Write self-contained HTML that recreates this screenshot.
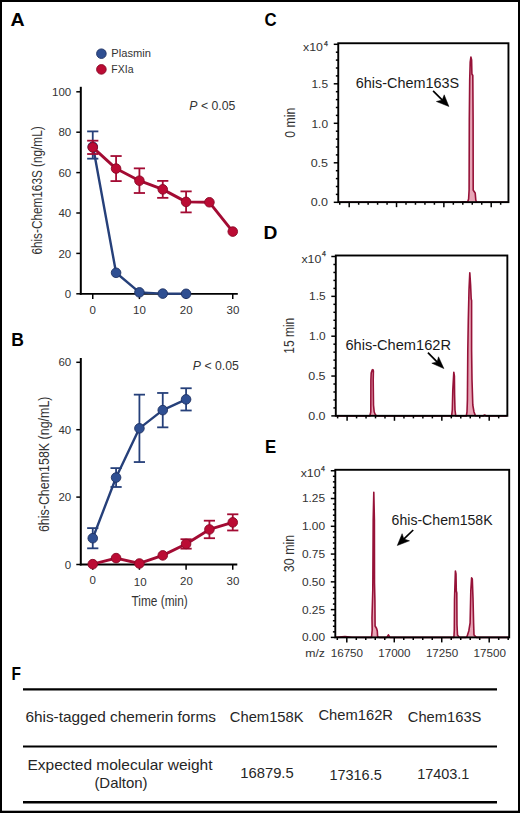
<!DOCTYPE html>
<html><head><meta charset="utf-8"><style>
html,body{margin:0;padding:0;background:#fff;}
body{width:520px;height:813px;overflow:hidden;}
svg{display:block;font-family:"Liberation Sans", sans-serif;}
</style></head><body>
<svg width="520" height="813" viewBox="0 0 520 813">
<rect x="0" y="0" width="520" height="813" fill="#000"/>
<rect x="2" y="2" width="516" height="808.7" fill="#fff"/>
<text transform="translate(10.6,26) scale(1.12,1)" x="0" y="0" font-size="17.5" font-weight="bold" fill="#000">A</text>
<text transform="translate(11.2,346.2) scale(1.0,1)" x="0" y="0" font-size="17.5" font-weight="bold" fill="#000">B</text>
<text transform="translate(264.6,26.2) scale(0.96,1)" x="0" y="0" font-size="17.5" font-weight="bold" fill="#000">C</text>
<text transform="translate(263.6,238.8) scale(1.1,1)" x="0" y="0" font-size="17.5" font-weight="bold" fill="#000">D</text>
<text transform="translate(265.0,452.7) scale(0.96,1)" x="0" y="0" font-size="17.5" font-weight="bold" fill="#000">E</text>
<text transform="translate(11.4,679.6) scale(0.88,1)" x="0" y="0" font-size="17.5" font-weight="bold" fill="#000">F</text>
<line x1="80.8" y1="86.8" x2="80.8" y2="294.7" stroke="#000" stroke-width="2"/>
<line x1="79.8" y1="293.8" x2="237.8" y2="293.8" stroke="#000" stroke-width="1.8"/>
<line x1="76.3" y1="293.8" x2="80.8" y2="293.8" stroke="#000" stroke-width="1.5"/>
<text x="71.2" y="297.90000000000003" font-size="11.5" text-anchor="end" fill="#333">0</text>
<line x1="76.3" y1="253.4" x2="80.8" y2="253.4" stroke="#000" stroke-width="1.5"/>
<text x="71.2" y="257.5" font-size="11.5" text-anchor="end" fill="#333">20</text>
<line x1="76.3" y1="213.0" x2="80.8" y2="213.0" stroke="#000" stroke-width="1.5"/>
<text x="71.2" y="217.1" font-size="11.5" text-anchor="end" fill="#333">40</text>
<line x1="76.3" y1="172.60000000000002" x2="80.8" y2="172.60000000000002" stroke="#000" stroke-width="1.5"/>
<text x="71.2" y="176.70000000000002" font-size="11.5" text-anchor="end" fill="#333">60</text>
<line x1="76.3" y1="132.20000000000002" x2="80.8" y2="132.20000000000002" stroke="#000" stroke-width="1.5"/>
<text x="71.2" y="136.3" font-size="11.5" text-anchor="end" fill="#333">80</text>
<line x1="76.3" y1="91.80000000000001" x2="80.8" y2="91.80000000000001" stroke="#000" stroke-width="1.5"/>
<text x="71.2" y="95.9" font-size="11.5" text-anchor="end" fill="#333">100</text>
<line x1="92.75" y1="293.8" x2="92.75" y2="299.1" stroke="#000" stroke-width="1.5"/>
<line x1="139.417" y1="293.8" x2="139.417" y2="299.1" stroke="#000" stroke-width="1.5"/>
<line x1="186.084" y1="293.8" x2="186.084" y2="299.1" stroke="#000" stroke-width="1.5"/>
<line x1="232.75099999999998" y1="293.8" x2="232.75099999999998" y2="299.1" stroke="#000" stroke-width="1.5"/>
<polyline points="92.75,145.03 116.08,272.79 139.42,292.39 162.75,293.60 186.08,293.80" fill="none" stroke="#26407a" stroke-width="2.4" stroke-linejoin="round"/>
<line x1="92.75" y1="131.392" x2="92.75" y2="158.662" stroke="#26407a" stroke-width="1.8"/>
<line x1="87.15" y1="131.392" x2="98.35" y2="131.392" stroke="#26407a" stroke-width="1.8"/>
<line x1="87.15" y1="158.662" x2="98.35" y2="158.662" stroke="#26407a" stroke-width="1.8"/>
<circle cx="92.75" cy="146.74" r="4.8" fill="#2f4f92" stroke="#1f3263" stroke-width="0.9"/>
<circle cx="116.08" cy="272.79" r="4.8" fill="#2f4f92" stroke="#1f3263" stroke-width="0.9"/>
<circle cx="139.42" cy="292.39" r="4.8" fill="#2f4f92" stroke="#1f3263" stroke-width="0.9"/>
<circle cx="162.75" cy="293.60" r="4.8" fill="#2f4f92" stroke="#1f3263" stroke-width="0.9"/>
<circle cx="186.08" cy="293.80" r="4.8" fill="#2f4f92" stroke="#1f3263" stroke-width="0.9"/>
<polyline points="92.75,147.35 116.08,168.56 139.42,180.68 162.75,189.37 186.08,201.89 209.42,202.29 232.75,231.58" fill="none" stroke="#a30b33" stroke-width="2.9" stroke-linejoin="round"/>
<line x1="92.75" y1="140.68400000000003" x2="92.75" y2="154.016" stroke="#a30b33" stroke-width="1.8"/>
<line x1="87.15" y1="140.68400000000003" x2="98.35" y2="140.68400000000003" stroke="#a30b33" stroke-width="1.8"/>
<line x1="87.15" y1="154.016" x2="98.35" y2="154.016" stroke="#a30b33" stroke-width="1.8"/>
<line x1="116.0835" y1="156.036" x2="116.0835" y2="181.084" stroke="#a30b33" stroke-width="1.8"/>
<line x1="110.4835" y1="156.036" x2="121.6835" y2="156.036" stroke="#a30b33" stroke-width="1.8"/>
<line x1="110.4835" y1="181.084" x2="121.6835" y2="181.084" stroke="#a30b33" stroke-width="1.8"/>
<line x1="139.417" y1="168.358" x2="139.417" y2="193.002" stroke="#a30b33" stroke-width="1.8"/>
<line x1="133.817" y1="168.358" x2="145.017" y2="168.358" stroke="#a30b33" stroke-width="1.8"/>
<line x1="133.817" y1="193.002" x2="145.017" y2="193.002" stroke="#a30b33" stroke-width="1.8"/>
<line x1="162.7505" y1="180.882" x2="162.7505" y2="197.85000000000002" stroke="#a30b33" stroke-width="1.8"/>
<line x1="157.1505" y1="180.882" x2="168.35049999999998" y2="180.882" stroke="#a30b33" stroke-width="1.8"/>
<line x1="157.1505" y1="197.85000000000002" x2="168.35049999999998" y2="197.85000000000002" stroke="#a30b33" stroke-width="1.8"/>
<line x1="186.084" y1="191.38600000000002" x2="186.084" y2="212.394" stroke="#a30b33" stroke-width="1.8"/>
<line x1="180.484" y1="191.38600000000002" x2="191.684" y2="191.38600000000002" stroke="#a30b33" stroke-width="1.8"/>
<line x1="180.484" y1="212.394" x2="191.684" y2="212.394" stroke="#a30b33" stroke-width="1.8"/>
<circle cx="92.75" cy="147.35" r="4.8" fill="#bb0b34" stroke="#880826" stroke-width="0.9"/>
<circle cx="116.08" cy="168.56" r="4.8" fill="#bb0b34" stroke="#880826" stroke-width="0.9"/>
<circle cx="139.42" cy="180.68" r="4.8" fill="#bb0b34" stroke="#880826" stroke-width="0.9"/>
<circle cx="162.75" cy="189.37" r="4.8" fill="#bb0b34" stroke="#880826" stroke-width="0.9"/>
<circle cx="186.08" cy="201.89" r="4.8" fill="#bb0b34" stroke="#880826" stroke-width="0.9"/>
<circle cx="209.42" cy="202.29" r="4.8" fill="#bb0b34" stroke="#880826" stroke-width="0.9"/>
<circle cx="232.75" cy="231.58" r="4.8" fill="#bb0b34" stroke="#880826" stroke-width="0.9"/>
<text x="92.8" y="313.6" font-size="11.5" text-anchor="middle" fill="#333">0</text>
<text x="139.5" y="313.6" font-size="11.5" text-anchor="middle" fill="#333">10</text>
<text x="186.2" y="313.6" font-size="11.5" text-anchor="middle" fill="#333">20</text>
<text x="233.0" y="313.6" font-size="11.5" text-anchor="middle" fill="#333">30</text>
<circle cx="101.4" cy="53.7" r="4.8" fill="#2f4f92" stroke="#1f3263" stroke-width="0.9"/>
<circle cx="101.4" cy="69.4" r="4.8" fill="#bb0b34" stroke="#880826" stroke-width="0.9"/>
<text x="111.3" y="56.9" font-size="11.5" text-anchor="start" fill="#333" textLength="39.6" lengthAdjust="spacingAndGlyphs">Plasmin</text>
<text x="111.3" y="72.5" font-size="11.5" text-anchor="start" fill="#333" textLength="22.2" lengthAdjust="spacingAndGlyphs">FXIa</text>
<text x="189.3" y="109.6" font-size="12" fill="#333" textLength="46" lengthAdjust="spacingAndGlyphs"><tspan font-style="italic">P</tspan> &lt; 0.05</text>
<text transform="translate(41.8,190.5) rotate(-90)" x="0" y="0" font-size="14" text-anchor="middle" fill="#333" textLength="128.2" lengthAdjust="spacingAndGlyphs">6his-Chem163S (ng/mL)</text>
<line x1="80.8" y1="358.0" x2="80.8" y2="565.4" stroke="#000" stroke-width="2"/>
<line x1="79.8" y1="564.5" x2="237.3" y2="564.5" stroke="#000" stroke-width="1.8"/>
<line x1="76.3" y1="564.5" x2="80.8" y2="564.5" stroke="#000" stroke-width="1.5"/>
<text x="71.2" y="568.6" font-size="11.5" text-anchor="end" fill="#333">0</text>
<line x1="76.3" y1="497.1" x2="80.8" y2="497.1" stroke="#000" stroke-width="1.5"/>
<text x="71.2" y="501.20000000000005" font-size="11.5" text-anchor="end" fill="#333">20</text>
<line x1="76.3" y1="429.7" x2="80.8" y2="429.7" stroke="#000" stroke-width="1.5"/>
<text x="71.2" y="433.8" font-size="11.5" text-anchor="end" fill="#333">40</text>
<line x1="76.3" y1="362.29999999999995" x2="80.8" y2="362.29999999999995" stroke="#000" stroke-width="1.5"/>
<text x="71.2" y="366.4" font-size="11.5" text-anchor="end" fill="#333">60</text>
<line x1="92.75" y1="564.5" x2="92.75" y2="569.8" stroke="#000" stroke-width="1.5"/>
<line x1="139.417" y1="564.5" x2="139.417" y2="569.8" stroke="#000" stroke-width="1.5"/>
<line x1="186.084" y1="564.5" x2="186.084" y2="569.8" stroke="#000" stroke-width="1.5"/>
<line x1="232.75099999999998" y1="564.5" x2="232.75099999999998" y2="569.8" stroke="#000" stroke-width="1.5"/>
<polyline points="92.75,538.21 116.08,477.55 139.42,428.35 162.75,410.15 186.08,399.37" fill="none" stroke="#26407a" stroke-width="2.4" stroke-linejoin="round"/>
<line x1="92.75" y1="528.104" x2="92.75" y2="548.324" stroke="#26407a" stroke-width="1.8"/>
<line x1="87.15" y1="528.104" x2="98.35" y2="528.104" stroke="#26407a" stroke-width="1.8"/>
<line x1="87.15" y1="548.324" x2="98.35" y2="548.324" stroke="#26407a" stroke-width="1.8"/>
<line x1="116.0835" y1="468.118" x2="116.0835" y2="486.99" stroke="#26407a" stroke-width="1.8"/>
<line x1="110.4835" y1="468.118" x2="121.6835" y2="468.118" stroke="#26407a" stroke-width="1.8"/>
<line x1="110.4835" y1="486.99" x2="121.6835" y2="486.99" stroke="#26407a" stroke-width="1.8"/>
<line x1="139.417" y1="394.652" x2="139.417" y2="462.052" stroke="#26407a" stroke-width="1.8"/>
<line x1="133.817" y1="394.652" x2="145.017" y2="394.652" stroke="#26407a" stroke-width="1.8"/>
<line x1="133.817" y1="462.052" x2="145.017" y2="462.052" stroke="#26407a" stroke-width="1.8"/>
<line x1="162.7505" y1="392.967" x2="162.7505" y2="427.341" stroke="#26407a" stroke-width="1.8"/>
<line x1="157.1505" y1="392.967" x2="168.35049999999998" y2="392.967" stroke="#26407a" stroke-width="1.8"/>
<line x1="157.1505" y1="427.341" x2="168.35049999999998" y2="427.341" stroke="#26407a" stroke-width="1.8"/>
<line x1="186.084" y1="388.249" x2="186.084" y2="410.491" stroke="#26407a" stroke-width="1.8"/>
<line x1="180.484" y1="388.249" x2="191.684" y2="388.249" stroke="#26407a" stroke-width="1.8"/>
<line x1="180.484" y1="410.491" x2="191.684" y2="410.491" stroke="#26407a" stroke-width="1.8"/>
<circle cx="92.75" cy="538.21" r="4.8" fill="#2f4f92" stroke="#1f3263" stroke-width="0.9"/>
<circle cx="116.08" cy="477.55" r="4.8" fill="#2f4f92" stroke="#1f3263" stroke-width="0.9"/>
<circle cx="139.42" cy="428.35" r="4.8" fill="#2f4f92" stroke="#1f3263" stroke-width="0.9"/>
<circle cx="162.75" cy="410.15" r="4.8" fill="#2f4f92" stroke="#1f3263" stroke-width="0.9"/>
<circle cx="186.08" cy="399.37" r="4.8" fill="#2f4f92" stroke="#1f3263" stroke-width="0.9"/>
<polyline points="92.75,564.16 116.08,558.10 139.42,563.49 162.75,555.40 186.08,543.94 209.42,529.45 232.75,522.38" fill="none" stroke="#a30b33" stroke-width="2.9" stroke-linejoin="round"/>
<line x1="186.084" y1="539.225" x2="186.084" y2="548.6610000000001" stroke="#a30b33" stroke-width="1.8"/>
<line x1="180.484" y1="539.225" x2="191.684" y2="539.225" stroke="#a30b33" stroke-width="1.8"/>
<line x1="180.484" y1="548.6610000000001" x2="191.684" y2="548.6610000000001" stroke="#a30b33" stroke-width="1.8"/>
<line x1="209.4175" y1="520.69" x2="209.4175" y2="538.2139999999999" stroke="#a30b33" stroke-width="1.8"/>
<line x1="203.8175" y1="520.69" x2="215.01749999999998" y2="520.69" stroke="#a30b33" stroke-width="1.8"/>
<line x1="203.8175" y1="538.2139999999999" x2="215.01749999999998" y2="538.2139999999999" stroke="#a30b33" stroke-width="1.8"/>
<line x1="232.75099999999998" y1="514.287" x2="232.75099999999998" y2="530.463" stroke="#a30b33" stroke-width="1.8"/>
<line x1="227.15099999999998" y1="514.287" x2="238.35099999999997" y2="514.287" stroke="#a30b33" stroke-width="1.8"/>
<line x1="227.15099999999998" y1="530.463" x2="238.35099999999997" y2="530.463" stroke="#a30b33" stroke-width="1.8"/>
<circle cx="92.75" cy="564.16" r="4.8" fill="#bb0b34" stroke="#880826" stroke-width="0.9"/>
<circle cx="116.08" cy="558.10" r="4.8" fill="#bb0b34" stroke="#880826" stroke-width="0.9"/>
<circle cx="139.42" cy="563.49" r="4.8" fill="#bb0b34" stroke="#880826" stroke-width="0.9"/>
<circle cx="162.75" cy="555.40" r="4.8" fill="#bb0b34" stroke="#880826" stroke-width="0.9"/>
<circle cx="186.08" cy="543.94" r="4.8" fill="#bb0b34" stroke="#880826" stroke-width="0.9"/>
<circle cx="209.42" cy="529.45" r="4.8" fill="#bb0b34" stroke="#880826" stroke-width="0.9"/>
<circle cx="232.75" cy="522.38" r="4.8" fill="#bb0b34" stroke="#880826" stroke-width="0.9"/>
<text x="92.8" y="584.2" font-size="11.5" text-anchor="middle" fill="#333">0</text>
<text x="140.2" y="586.4" font-size="11.5" text-anchor="middle" fill="#333">10</text>
<text x="186.5" y="584.6" font-size="11.5" text-anchor="middle" fill="#333">20</text>
<text x="233.0" y="584.6" font-size="11.5" text-anchor="middle" fill="#333">30</text>
<text x="192.8" y="369.5" font-size="12" fill="#333" textLength="46" lengthAdjust="spacingAndGlyphs"><tspan font-style="italic">P</tspan> &lt; 0.05</text>
<text transform="translate(48.6,464.3) rotate(-90)" x="0" y="0" font-size="14" text-anchor="middle" fill="#333" textLength="135.6" lengthAdjust="spacingAndGlyphs">6his-Chem158K (ng/mL)</text>
<text x="159.6" y="606.3" font-size="14" text-anchor="middle" fill="#333" textLength="56.2" lengthAdjust="spacingAndGlyphs">Time (min)</text>
<path d="M338.00,202.30 L460.00,202.30 L464.00,201.80 L467.60,202.00 L468.60,199.00 L469.10,190.00 L469.30,120.00 L469.70,80.00 L470.20,62.00 L470.90,57.00 L471.60,60.00 L471.90,74.00 L472.80,75.50 L473.10,120.00 L473.20,190.00 L474.30,191.80 L475.20,193.00 L475.80,200.00 L476.50,202.30 L508.00,202.30" fill="#e7a5b6" stroke="#961238" stroke-width="1.6" stroke-linejoin="round"/>
<rect x="338.25" y="43.25" width="170.2" height="158.9" fill="none" stroke="#000" stroke-width="1.9"/>
<line x1="333.75" y1="202.3" x2="338.25" y2="202.3" stroke="#000" stroke-width="1.5"/>
<line x1="335.85" y1="194.4" x2="338.25" y2="194.4" stroke="#000" stroke-width="1.5"/>
<line x1="335.85" y1="186.5" x2="338.25" y2="186.5" stroke="#000" stroke-width="1.5"/>
<line x1="335.85" y1="178.60000000000002" x2="338.25" y2="178.60000000000002" stroke="#000" stroke-width="1.5"/>
<line x1="335.85" y1="170.70000000000002" x2="338.25" y2="170.70000000000002" stroke="#000" stroke-width="1.5"/>
<line x1="333.75" y1="162.8" x2="338.25" y2="162.8" stroke="#000" stroke-width="1.5"/>
<line x1="335.85" y1="154.9" x2="338.25" y2="154.9" stroke="#000" stroke-width="1.5"/>
<line x1="335.85" y1="147.0" x2="338.25" y2="147.0" stroke="#000" stroke-width="1.5"/>
<line x1="335.85" y1="139.10000000000002" x2="338.25" y2="139.10000000000002" stroke="#000" stroke-width="1.5"/>
<line x1="335.85" y1="131.2" x2="338.25" y2="131.2" stroke="#000" stroke-width="1.5"/>
<line x1="333.75" y1="123.30000000000001" x2="338.25" y2="123.30000000000001" stroke="#000" stroke-width="1.5"/>
<line x1="335.85" y1="115.4" x2="338.25" y2="115.4" stroke="#000" stroke-width="1.5"/>
<line x1="335.85" y1="107.5" x2="338.25" y2="107.5" stroke="#000" stroke-width="1.5"/>
<line x1="335.85" y1="99.60000000000001" x2="338.25" y2="99.60000000000001" stroke="#000" stroke-width="1.5"/>
<line x1="335.85" y1="91.7" x2="338.25" y2="91.7" stroke="#000" stroke-width="1.5"/>
<line x1="333.75" y1="83.80000000000001" x2="338.25" y2="83.80000000000001" stroke="#000" stroke-width="1.5"/>
<line x1="335.85" y1="75.9" x2="338.25" y2="75.9" stroke="#000" stroke-width="1.5"/>
<line x1="335.85" y1="68.0" x2="338.25" y2="68.0" stroke="#000" stroke-width="1.5"/>
<line x1="335.85" y1="60.099999999999994" x2="338.25" y2="60.099999999999994" stroke="#000" stroke-width="1.5"/>
<line x1="335.85" y1="52.19999999999999" x2="338.25" y2="52.19999999999999" stroke="#000" stroke-width="1.5"/>
<line x1="333.75" y1="44.30000000000001" x2="338.25" y2="44.30000000000001" stroke="#000" stroke-width="1.5"/>
<line x1="339.73333333333335" y1="202.15" x2="339.73333333333335" y2="204.75" stroke="#000" stroke-width="1.5"/>
<line x1="349.2" y1="202.15" x2="349.2" y2="207.15" stroke="#000" stroke-width="1.5"/>
<line x1="358.66666666666663" y1="202.15" x2="358.66666666666663" y2="204.75" stroke="#000" stroke-width="1.5"/>
<line x1="368.1333333333333" y1="202.15" x2="368.1333333333333" y2="204.75" stroke="#000" stroke-width="1.5"/>
<line x1="377.59999999999997" y1="202.15" x2="377.59999999999997" y2="204.75" stroke="#000" stroke-width="1.5"/>
<line x1="387.06666666666666" y1="202.15" x2="387.06666666666666" y2="204.75" stroke="#000" stroke-width="1.5"/>
<line x1="396.5333333333333" y1="202.15" x2="396.5333333333333" y2="207.15" stroke="#000" stroke-width="1.5"/>
<line x1="406.0" y1="202.15" x2="406.0" y2="204.75" stroke="#000" stroke-width="1.5"/>
<line x1="415.46666666666664" y1="202.15" x2="415.46666666666664" y2="204.75" stroke="#000" stroke-width="1.5"/>
<line x1="424.93333333333334" y1="202.15" x2="424.93333333333334" y2="204.75" stroke="#000" stroke-width="1.5"/>
<line x1="434.4" y1="202.15" x2="434.4" y2="204.75" stroke="#000" stroke-width="1.5"/>
<line x1="443.8666666666667" y1="202.15" x2="443.8666666666667" y2="207.15" stroke="#000" stroke-width="1.5"/>
<line x1="453.3333333333333" y1="202.15" x2="453.3333333333333" y2="204.75" stroke="#000" stroke-width="1.5"/>
<line x1="462.79999999999995" y1="202.15" x2="462.79999999999995" y2="204.75" stroke="#000" stroke-width="1.5"/>
<line x1="472.26666666666665" y1="202.15" x2="472.26666666666665" y2="204.75" stroke="#000" stroke-width="1.5"/>
<line x1="481.73333333333335" y1="202.15" x2="481.73333333333335" y2="204.75" stroke="#000" stroke-width="1.5"/>
<line x1="491.2" y1="202.15" x2="491.2" y2="207.15" stroke="#000" stroke-width="1.5"/>
<line x1="500.66666666666663" y1="202.15" x2="500.66666666666663" y2="204.75" stroke="#000" stroke-width="1.5"/>
<text x="328.05" y="87.9" font-size="11.8" text-anchor="end" fill="#333" textLength="16.6" lengthAdjust="spacingAndGlyphs">1.5</text>
<text x="328.05" y="127.9" font-size="11.8" text-anchor="end" fill="#333" textLength="16.6" lengthAdjust="spacingAndGlyphs">1.0</text>
<text x="328.05" y="166.9" font-size="11.8" text-anchor="end" fill="#333" textLength="17.4" lengthAdjust="spacingAndGlyphs">0.5</text>
<text x="328.05" y="206.4" font-size="11.8" text-anchor="end" fill="#333" textLength="17.4" lengthAdjust="spacingAndGlyphs">0.0</text>
<text x="303.0" y="50.75" font-size="11.8" fill="#333" textLength="19.9" lengthAdjust="spacingAndGlyphs">x10</text>
<text x="324.0" y="46.2" font-size="7" fill="#333" stroke="#333" stroke-width="0.25">4</text>
<text transform="translate(294.6,122.7) rotate(-90)" x="0" y="0" font-size="14" text-anchor="middle" fill="#333" textLength="30.0" lengthAdjust="spacingAndGlyphs">0 min</text>
<text x="355.8" y="88.3" font-size="14" text-anchor="start" fill="#1a1a1a" textLength="103.3" lengthAdjust="spacingAndGlyphs">6his-Chem163S</text>
<line x1="433.1" y1="90.9" x2="442.87999999999994" y2="100.655" stroke="#000" stroke-width="1.7"/>
<polygon points="448.9,106.5 444.2,94.8 442.19,99.99 436.4,101.5" fill="#000" stroke="#000" stroke-width="0.5" stroke-linejoin="round"/>
<path d="M336.00,416.00 L369.80,416.00 L370.80,412.00 L370.90,380.00 L371.20,373.00 L372.20,370.00 L372.90,369.60 L373.40,371.00 L373.20,380.00 L373.50,405.00 L374.20,412.00 L375.50,415.00 L377.00,416.00 L451.60,416.00 L452.30,410.00 L452.80,390.00 L453.80,372.20 L454.40,376.00 L454.60,395.00 L455.00,410.00 L455.80,416.00 L466.30,416.00 L467.00,412.00 L467.40,400.00 L467.80,350.00 L468.30,320.00 L469.00,290.00 L469.80,272.90 L470.60,285.00 L471.20,299.00 L471.60,300.50 L471.60,350.00 L472.00,380.00 L472.80,405.00 L474.00,412.00 L475.40,415.60 L483.00,416.00 L484.60,415.00 L486.50,416.00 L507.00,416.00" fill="#e7a5b6" stroke="#961238" stroke-width="1.6" stroke-linejoin="round"/>
<rect x="335.8" y="255.5" width="171.55" height="160.3" fill="none" stroke="#000" stroke-width="1.9"/>
<line x1="331.3" y1="415.9" x2="335.8" y2="415.9" stroke="#000" stroke-width="1.5"/>
<line x1="333.40000000000003" y1="407.92999999999995" x2="335.8" y2="407.92999999999995" stroke="#000" stroke-width="1.5"/>
<line x1="333.40000000000003" y1="399.96" x2="335.8" y2="399.96" stroke="#000" stroke-width="1.5"/>
<line x1="333.40000000000003" y1="391.98999999999995" x2="335.8" y2="391.98999999999995" stroke="#000" stroke-width="1.5"/>
<line x1="333.40000000000003" y1="384.02" x2="335.8" y2="384.02" stroke="#000" stroke-width="1.5"/>
<line x1="331.3" y1="376.04999999999995" x2="335.8" y2="376.04999999999995" stroke="#000" stroke-width="1.5"/>
<line x1="333.40000000000003" y1="368.08" x2="335.8" y2="368.08" stroke="#000" stroke-width="1.5"/>
<line x1="333.40000000000003" y1="360.10999999999996" x2="335.8" y2="360.10999999999996" stroke="#000" stroke-width="1.5"/>
<line x1="333.40000000000003" y1="352.14" x2="335.8" y2="352.14" stroke="#000" stroke-width="1.5"/>
<line x1="333.40000000000003" y1="344.16999999999996" x2="335.8" y2="344.16999999999996" stroke="#000" stroke-width="1.5"/>
<line x1="331.3" y1="336.2" x2="335.8" y2="336.2" stroke="#000" stroke-width="1.5"/>
<line x1="333.40000000000003" y1="328.22999999999996" x2="335.8" y2="328.22999999999996" stroke="#000" stroke-width="1.5"/>
<line x1="333.40000000000003" y1="320.26" x2="335.8" y2="320.26" stroke="#000" stroke-width="1.5"/>
<line x1="333.40000000000003" y1="312.28999999999996" x2="335.8" y2="312.28999999999996" stroke="#000" stroke-width="1.5"/>
<line x1="333.40000000000003" y1="304.31999999999994" x2="335.8" y2="304.31999999999994" stroke="#000" stroke-width="1.5"/>
<line x1="331.3" y1="296.34999999999997" x2="335.8" y2="296.34999999999997" stroke="#000" stroke-width="1.5"/>
<line x1="333.40000000000003" y1="288.38" x2="335.8" y2="288.38" stroke="#000" stroke-width="1.5"/>
<line x1="333.40000000000003" y1="280.40999999999997" x2="335.8" y2="280.40999999999997" stroke="#000" stroke-width="1.5"/>
<line x1="333.40000000000003" y1="272.43999999999994" x2="335.8" y2="272.43999999999994" stroke="#000" stroke-width="1.5"/>
<line x1="333.40000000000003" y1="264.46999999999997" x2="335.8" y2="264.46999999999997" stroke="#000" stroke-width="1.5"/>
<line x1="331.3" y1="256.5" x2="335.8" y2="256.5" stroke="#000" stroke-width="1.5"/>
<line x1="337.62666666666667" y1="415.8" x2="337.62666666666667" y2="418.40000000000003" stroke="#000" stroke-width="1.5"/>
<line x1="347.1" y1="415.8" x2="347.1" y2="420.8" stroke="#000" stroke-width="1.5"/>
<line x1="356.5733333333334" y1="415.8" x2="356.5733333333334" y2="418.40000000000003" stroke="#000" stroke-width="1.5"/>
<line x1="366.0466666666667" y1="415.8" x2="366.0466666666667" y2="418.40000000000003" stroke="#000" stroke-width="1.5"/>
<line x1="375.52000000000004" y1="415.8" x2="375.52000000000004" y2="418.40000000000003" stroke="#000" stroke-width="1.5"/>
<line x1="384.99333333333334" y1="415.8" x2="384.99333333333334" y2="418.40000000000003" stroke="#000" stroke-width="1.5"/>
<line x1="394.4666666666667" y1="415.8" x2="394.4666666666667" y2="420.8" stroke="#000" stroke-width="1.5"/>
<line x1="403.94" y1="415.8" x2="403.94" y2="418.40000000000003" stroke="#000" stroke-width="1.5"/>
<line x1="413.41333333333336" y1="415.8" x2="413.41333333333336" y2="418.40000000000003" stroke="#000" stroke-width="1.5"/>
<line x1="422.88666666666666" y1="415.8" x2="422.88666666666666" y2="418.40000000000003" stroke="#000" stroke-width="1.5"/>
<line x1="432.36" y1="415.8" x2="432.36" y2="418.40000000000003" stroke="#000" stroke-width="1.5"/>
<line x1="441.8333333333333" y1="415.8" x2="441.8333333333333" y2="420.8" stroke="#000" stroke-width="1.5"/>
<line x1="451.3066666666667" y1="415.8" x2="451.3066666666667" y2="418.40000000000003" stroke="#000" stroke-width="1.5"/>
<line x1="460.78" y1="415.8" x2="460.78" y2="418.40000000000003" stroke="#000" stroke-width="1.5"/>
<line x1="470.25333333333333" y1="415.8" x2="470.25333333333333" y2="418.40000000000003" stroke="#000" stroke-width="1.5"/>
<line x1="479.7266666666667" y1="415.8" x2="479.7266666666667" y2="418.40000000000003" stroke="#000" stroke-width="1.5"/>
<line x1="489.2" y1="415.8" x2="489.2" y2="420.8" stroke="#000" stroke-width="1.5"/>
<line x1="498.6733333333333" y1="415.8" x2="498.6733333333333" y2="418.40000000000003" stroke="#000" stroke-width="1.5"/>
<text x="325.6" y="300.4" font-size="11.8" text-anchor="end" fill="#333" textLength="16.6" lengthAdjust="spacingAndGlyphs">1.5</text>
<text x="325.6" y="340.2" font-size="11.8" text-anchor="end" fill="#333" textLength="16.6" lengthAdjust="spacingAndGlyphs">1.0</text>
<text x="325.6" y="380.0" font-size="11.8" text-anchor="end" fill="#333" textLength="17.4" lengthAdjust="spacingAndGlyphs">0.5</text>
<text x="325.6" y="419.9" font-size="11.8" text-anchor="end" fill="#333" textLength="17.4" lengthAdjust="spacingAndGlyphs">0.0</text>
<text x="301.4" y="262.75" font-size="11.8" fill="#333" textLength="19.9" lengthAdjust="spacingAndGlyphs">x10</text>
<text x="321.9" y="256.3" font-size="7" fill="#333" stroke="#333" stroke-width="0.25">4</text>
<text transform="translate(294.0,335.7) rotate(-90)" x="0" y="0" font-size="14" text-anchor="middle" fill="#333" textLength="36.0" lengthAdjust="spacingAndGlyphs">15 min</text>
<text x="345.4" y="350.1" font-size="14" text-anchor="start" fill="#1a1a1a" textLength="105.6" lengthAdjust="spacingAndGlyphs">6his-Chem162R</text>
<line x1="427.9" y1="352.7" x2="437.775" y2="362.58" stroke="#000" stroke-width="1.7"/>
<polygon points="443.9,368.6 438.5,356.8 437.07,361.89 431.8,363.2" fill="#000" stroke="#000" stroke-width="0.5" stroke-linejoin="round"/>
<path d="M336.00,637.20 L345.00,636.60 L352.00,637.20 L371.50,637.40 L372.20,630.00 L372.00,618.00 L372.80,590.00 L373.20,520.00 L373.80,492.20 L374.40,520.00 L374.50,583.00 L374.90,600.00 L375.10,626.00 L376.60,628.50 L377.30,631.00 L377.60,636.50 L379.00,637.40 L386.80,637.40 L388.40,634.80 L390.00,637.40 L453.90,637.40 L454.30,630.00 L454.50,600.00 L454.80,590.00 L455.40,571.00 L456.00,574.00 L456.30,591.00 L456.80,593.00 L457.00,625.00 L457.50,635.00 L459.50,637.40 L466.20,637.40 L467.20,636.00 L468.80,631.00 L470.10,623.00 L470.80,591.00 L471.60,577.80 L472.30,579.00 L473.00,598.00 L473.60,623.00 L474.00,635.00 L476.50,637.40 L509.00,637.40" fill="#e7a5b6" stroke="#961238" stroke-width="1.6" stroke-linejoin="round"/>
<rect x="335.3" y="469.8" width="173.89999999999998" height="167.59999999999997" fill="none" stroke="#000" stroke-width="1.9"/>
<line x1="330.8" y1="637.4" x2="335.3" y2="637.4" stroke="#000" stroke-width="1.5"/>
<line x1="332.90000000000003" y1="631.845" x2="335.3" y2="631.845" stroke="#000" stroke-width="1.5"/>
<line x1="332.90000000000003" y1="626.29" x2="335.3" y2="626.29" stroke="#000" stroke-width="1.5"/>
<line x1="332.90000000000003" y1="620.735" x2="335.3" y2="620.735" stroke="#000" stroke-width="1.5"/>
<line x1="332.90000000000003" y1="615.18" x2="335.3" y2="615.18" stroke="#000" stroke-width="1.5"/>
<line x1="330.8" y1="609.625" x2="335.3" y2="609.625" stroke="#000" stroke-width="1.5"/>
<line x1="332.90000000000003" y1="604.0699999999999" x2="335.3" y2="604.0699999999999" stroke="#000" stroke-width="1.5"/>
<line x1="332.90000000000003" y1="598.515" x2="335.3" y2="598.515" stroke="#000" stroke-width="1.5"/>
<line x1="332.90000000000003" y1="592.96" x2="335.3" y2="592.96" stroke="#000" stroke-width="1.5"/>
<line x1="332.90000000000003" y1="587.405" x2="335.3" y2="587.405" stroke="#000" stroke-width="1.5"/>
<line x1="330.8" y1="581.85" x2="335.3" y2="581.85" stroke="#000" stroke-width="1.5"/>
<line x1="332.90000000000003" y1="576.295" x2="335.3" y2="576.295" stroke="#000" stroke-width="1.5"/>
<line x1="332.90000000000003" y1="570.74" x2="335.3" y2="570.74" stroke="#000" stroke-width="1.5"/>
<line x1="332.90000000000003" y1="565.185" x2="335.3" y2="565.185" stroke="#000" stroke-width="1.5"/>
<line x1="332.90000000000003" y1="559.63" x2="335.3" y2="559.63" stroke="#000" stroke-width="1.5"/>
<line x1="330.8" y1="554.075" x2="335.3" y2="554.075" stroke="#000" stroke-width="1.5"/>
<line x1="332.90000000000003" y1="548.52" x2="335.3" y2="548.52" stroke="#000" stroke-width="1.5"/>
<line x1="332.90000000000003" y1="542.9649999999999" x2="335.3" y2="542.9649999999999" stroke="#000" stroke-width="1.5"/>
<line x1="332.90000000000003" y1="537.41" x2="335.3" y2="537.41" stroke="#000" stroke-width="1.5"/>
<line x1="332.90000000000003" y1="531.855" x2="335.3" y2="531.855" stroke="#000" stroke-width="1.5"/>
<line x1="330.8" y1="526.3" x2="335.3" y2="526.3" stroke="#000" stroke-width="1.5"/>
<line x1="332.90000000000003" y1="520.745" x2="335.3" y2="520.745" stroke="#000" stroke-width="1.5"/>
<line x1="332.90000000000003" y1="515.1899999999999" x2="335.3" y2="515.1899999999999" stroke="#000" stroke-width="1.5"/>
<line x1="332.90000000000003" y1="509.635" x2="335.3" y2="509.635" stroke="#000" stroke-width="1.5"/>
<line x1="332.90000000000003" y1="504.0799999999999" x2="335.3" y2="504.0799999999999" stroke="#000" stroke-width="1.5"/>
<line x1="330.8" y1="498.525" x2="335.3" y2="498.525" stroke="#000" stroke-width="1.5"/>
<line x1="332.90000000000003" y1="492.96999999999997" x2="335.3" y2="492.96999999999997" stroke="#000" stroke-width="1.5"/>
<line x1="332.90000000000003" y1="487.41499999999996" x2="335.3" y2="487.41499999999996" stroke="#000" stroke-width="1.5"/>
<line x1="332.90000000000003" y1="481.85999999999996" x2="335.3" y2="481.85999999999996" stroke="#000" stroke-width="1.5"/>
<line x1="332.90000000000003" y1="476.30499999999995" x2="335.3" y2="476.30499999999995" stroke="#000" stroke-width="1.5"/>
<line x1="330.8" y1="470.75" x2="335.3" y2="470.75" stroke="#000" stroke-width="1.5"/>
<line x1="337.3066666666667" y1="637.4" x2="337.3066666666667" y2="640.0" stroke="#000" stroke-width="1.5"/>
<line x1="346.8" y1="637.4" x2="346.8" y2="642.4" stroke="#000" stroke-width="1.5"/>
<line x1="356.29333333333335" y1="637.4" x2="356.29333333333335" y2="640.0" stroke="#000" stroke-width="1.5"/>
<line x1="365.7866666666667" y1="637.4" x2="365.7866666666667" y2="640.0" stroke="#000" stroke-width="1.5"/>
<line x1="375.28000000000003" y1="637.4" x2="375.28000000000003" y2="640.0" stroke="#000" stroke-width="1.5"/>
<line x1="384.7733333333333" y1="637.4" x2="384.7733333333333" y2="640.0" stroke="#000" stroke-width="1.5"/>
<line x1="394.26666666666665" y1="637.4" x2="394.26666666666665" y2="642.4" stroke="#000" stroke-width="1.5"/>
<line x1="403.76" y1="637.4" x2="403.76" y2="640.0" stroke="#000" stroke-width="1.5"/>
<line x1="413.25333333333333" y1="637.4" x2="413.25333333333333" y2="640.0" stroke="#000" stroke-width="1.5"/>
<line x1="422.74666666666667" y1="637.4" x2="422.74666666666667" y2="640.0" stroke="#000" stroke-width="1.5"/>
<line x1="432.24" y1="637.4" x2="432.24" y2="640.0" stroke="#000" stroke-width="1.5"/>
<line x1="441.73333333333335" y1="637.4" x2="441.73333333333335" y2="642.4" stroke="#000" stroke-width="1.5"/>
<line x1="451.2266666666667" y1="637.4" x2="451.2266666666667" y2="640.0" stroke="#000" stroke-width="1.5"/>
<line x1="460.71999999999997" y1="637.4" x2="460.71999999999997" y2="640.0" stroke="#000" stroke-width="1.5"/>
<line x1="470.2133333333333" y1="637.4" x2="470.2133333333333" y2="640.0" stroke="#000" stroke-width="1.5"/>
<line x1="479.70666666666665" y1="637.4" x2="479.70666666666665" y2="640.0" stroke="#000" stroke-width="1.5"/>
<line x1="489.2" y1="637.4" x2="489.2" y2="642.4" stroke="#000" stroke-width="1.5"/>
<line x1="498.6933333333333" y1="637.4" x2="498.6933333333333" y2="640.0" stroke="#000" stroke-width="1.5"/>
<line x1="508.1866666666666" y1="637.4" x2="508.1866666666666" y2="640.0" stroke="#000" stroke-width="1.5"/>
<text x="325.1" y="502.4" font-size="11.8" text-anchor="end" fill="#333" textLength="23.2" lengthAdjust="spacingAndGlyphs">1.25</text>
<text x="325.1" y="530.1" font-size="11.8" text-anchor="end" fill="#333" textLength="23.2" lengthAdjust="spacingAndGlyphs">1.00</text>
<text x="325.1" y="557.9" font-size="11.8" text-anchor="end" fill="#333" textLength="23.2" lengthAdjust="spacingAndGlyphs">0.75</text>
<text x="325.1" y="585.7" font-size="11.8" text-anchor="end" fill="#333" textLength="23.2" lengthAdjust="spacingAndGlyphs">0.50</text>
<text x="325.1" y="613.5" font-size="11.8" text-anchor="end" fill="#333" textLength="23.2" lengthAdjust="spacingAndGlyphs">0.25</text>
<text x="325.1" y="641.4" font-size="11.8" text-anchor="end" fill="#333" textLength="23.2" lengthAdjust="spacingAndGlyphs">0.00</text>
<text x="300.7" y="476.85" font-size="11.8" fill="#333" textLength="19.9" lengthAdjust="spacingAndGlyphs">x10</text>
<text x="320.9" y="471.3" font-size="7" fill="#333" stroke="#333" stroke-width="0.25">4</text>
<text transform="translate(294.2,553.5) rotate(-90)" x="0" y="0" font-size="14" text-anchor="middle" fill="#333" textLength="37.4" lengthAdjust="spacingAndGlyphs">30 min</text>
<text x="391.6" y="525.1" font-size="14" text-anchor="start" fill="#1a1a1a" textLength="101.0" lengthAdjust="spacingAndGlyphs">6his-Chem158K</text>
<line x1="413.2" y1="530.0" x2="403.25" y2="539.725" stroke="#000" stroke-width="1.7"/>
<polygon points="397.3,545.5 402.1,533.7 403.93,539.07 409.5,540.8" fill="#000" stroke="#000" stroke-width="0.5" stroke-linejoin="round"/>
<text x="346.9" y="657.3" font-size="11.5" text-anchor="middle" fill="#333" textLength="32.4" lengthAdjust="spacingAndGlyphs">16750</text>
<text x="394.4" y="657.3" font-size="11.5" text-anchor="middle" fill="#333" textLength="32.4" lengthAdjust="spacingAndGlyphs">17000</text>
<text x="442.1" y="657.3" font-size="11.5" text-anchor="middle" fill="#333" textLength="32.4" lengthAdjust="spacingAndGlyphs">17250</text>
<text x="489.7" y="657.3" font-size="11.5" text-anchor="middle" fill="#333" textLength="32.4" lengthAdjust="spacingAndGlyphs">17500</text>
<text x="305.2" y="656.9" font-size="11.5" text-anchor="start" fill="#333" textLength="19.8" lengthAdjust="spacingAndGlyphs">m/z</text>
<line x1="23" y1="689.4" x2="497" y2="689.4" stroke="#000" stroke-width="2.1"/>
<line x1="23" y1="746.6" x2="497" y2="746.6" stroke="#000" stroke-width="2.0"/>
<line x1="23" y1="802.2" x2="497" y2="802.2" stroke="#000" stroke-width="2.6"/>
<text x="25.4" y="722.4" font-size="15" text-anchor="start" fill="#262626" textLength="190.6" lengthAdjust="spacingAndGlyphs">6his-tagged chemerin forms</text>
<text x="229.8" y="721.6" font-size="15" text-anchor="start" fill="#262626" textLength="73.8" lengthAdjust="spacingAndGlyphs">Chem158K</text>
<text x="318.4" y="719.8" font-size="15" text-anchor="start" fill="#262626" textLength="74.6" lengthAdjust="spacingAndGlyphs">Chem162R</text>
<text x="407.8" y="722.2" font-size="15" text-anchor="start" fill="#262626" textLength="73.6" lengthAdjust="spacingAndGlyphs">Chem163S</text>
<text x="120.0" y="769.9" font-size="15" text-anchor="middle" fill="#262626" textLength="185.0" lengthAdjust="spacingAndGlyphs">Expected molecular weight</text>
<text x="121.0" y="787.7" font-size="15" text-anchor="middle" fill="#262626" textLength="53.2" lengthAdjust="spacingAndGlyphs">(Dalton)</text>
<text x="240.3" y="777.9" font-size="15" text-anchor="start" fill="#262626" textLength="53.4" lengthAdjust="spacingAndGlyphs">16879.5</text>
<text x="329.5" y="779.7" font-size="15" text-anchor="start" fill="#262626" textLength="52.2" lengthAdjust="spacingAndGlyphs">17316.5</text>
<text x="417.2" y="778.7" font-size="15" text-anchor="start" fill="#262626" textLength="52.2" lengthAdjust="spacingAndGlyphs">17403.1</text>
</svg>
</body></html>
